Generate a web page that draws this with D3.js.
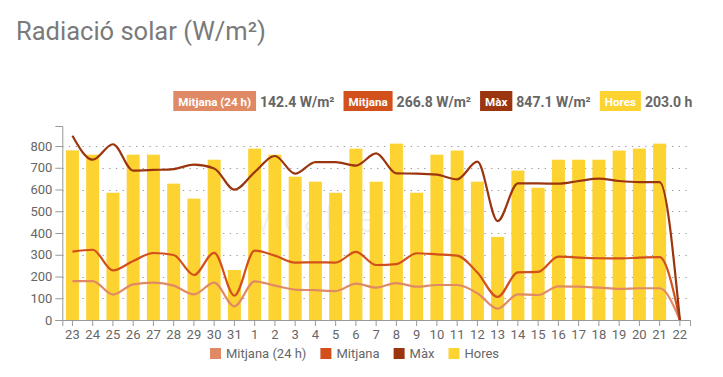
<!DOCTYPE html>
<html>
<head>
  <meta charset="utf-8">
  <title>Radiació solar</title>
  <script src="https://d3js.org/d3.v7.min.js"></script>
  <style>
    body { margin: 0; background: #fff; font-family: Roboto, "Noto Sans", sans-serif; }
  </style>
</head>
<body>
  <div id="chart"></div>

  <script>
    // days shown on the x axis
    var days = ["23","24","25","26","27","28","29","30","31","1","2","3","4","5","6","7","8","9","10","11","12","13","14","15","16","17","18","19","20","21","22"];

    // W/m2
    var avg24 = [179,179,117,164,172,158,118,172,63,178,158,140,137,133,167,149,170,153,161,161,123,52,118,115,155,153,149,143,146,146,0];
    var avg   = [314,323,228,271,308,299,207,309,112,319,296,264,265,264,313,253,257,307,302,296,218,106,219,221,291,287,284,283,287,289,0];
    var maxV  = [847,737,808,687,690,694,714,697,599,680,754,673,726,726,710,766,674,673,668,647,728,455,628,628,627,639,650,639,634,634,0];

    // sunshine hours per day
    var hours = [7.8,7.6,5.85,7.6,7.6,6.27,5.58,7.37,2.3,7.88,7.6,6.59,6.36,5.85,7.88,6.36,8.11,5.85,7.6,7.79,6.36,3.82,6.87,6.08,7.37,7.37,7.37,7.79,7.88,8.11,null];

    var yTicks = [0,100,200,300,400,500,600,700,800];

    var legendItems = [
      {name: "Mitjana (24 h)", value: "142.4 W/m²", color: "#e08a65"},
      {name: "Mitjana", value: "266.8 W/m²", color: "#d2501b"},
      {name: "Màx", value: "847.1 W/m²", color: "#9b3510"},
      {name: "Hores", value: "203.0 h", color: "#fdd331"}
    ];

    var W = 723, H = 377;
    var plotL = 62.3, plotR = 690, plotT = 126, plotB = 320;

    var svg = d3.select("#chart").append("svg")
      .attr("width", W).attr("height", H);

    svg.append("text")
      .attr("x", 16).attr("y", 40)
      .attr("font-size", 25.5).attr("font-weight", 400)
      .attr("fill", "#7a7a7a")
      .text("Radiació solar (W/m²)");

    var x = d3.scaleBand().domain(days).range([plotL, plotR]);
    var y = d3.scaleLinear().domain([0, 892]).range([plotB, plotT]);
    var yH = d3.scaleLinear().domain([0, 8.92]).range([plotB, plotT]);

    // faint watermark
    svg.append("text")
      .attr("x", 255).attr("y", 232)
      .attr("font-size", 38).attr("font-weight", 300)
      .attr("fill", "#eef0f3")
      .text("weathercloud");

    // grid
    svg.append("g").selectAll("line")
      .data(yTicks.filter(function(d) { return d > 0; }))
      .enter().append("line")
      .attr("x1", plotL).attr("x2", plotR)
      .attr("y1", function(d) { return Math.round(y(d)) + 0.5; })
      .attr("y2", function(d) { return Math.round(y(d)) + 0.5; })
      .attr("stroke", "#999")
      .attr("stroke-dasharray", "1.3,5.4");

    // bars
    var bw = 13;
    svg.append("g").selectAll("rect")
      .data(hours.map(function(h, i) { return {day: days[i], h: h}; }).filter(function(d) { return d.h != null; }))
      .enter().append("rect")
      .attr("x", function(d) { return x(d.day) + x.bandwidth() / 2 - bw / 2; })
      .attr("y", function(d) { return yH(d.h); })
      .attr("width", bw)
      .attr("height", function(d) { return plotB - yH(d.h); })
      .attr("fill", "#fdd331");

    // lines
    var line = d3.line()
      .x(function(d, i) { return x(days[i]) + x.bandwidth() / 2; })
      .y(function(d) { return y(d); })
      .curve(d3.curveMonotoneX);

    [[avg24, "#e08a65"], [avg, "#d2501b"], [maxV, "#9b3510"]].forEach(function(s) {
      svg.append("path")
        .datum(s[0])
        .attr("d", line)
        .attr("fill", "none")
        .attr("stroke", s[1])
        .attr("stroke-width", 2.2);
    });

    // axes
    var gy = svg.append("g")
      .attr("transform", "translate(" + plotL + ",0)")
      .call(d3.axisLeft(y).tickValues(yTicks).tickSize(7).tickSizeOuter(7).tickPadding(3));
    var gx = svg.append("g")
      .attr("transform", "translate(0," + plotB + ")")
      .call(d3.axisBottom(x).tickSize(6).tickSizeOuter(6).tickPadding(4));
    [gy, gx].forEach(function(g) {
      g.selectAll("path, line").attr("stroke", "#999");
      g.selectAll("text").attr("fill", "#666").attr("font-size", 13)
        .attr("font-family", "Roboto, sans-serif");
    });

    // top legend
    var lx = 173.3;
    var legTop = svg.append("g");
    legendItems.forEach(function(d) {
      var g = legTop.append("g");
      var rect = g.append("rect").attr("y", 91).attr("height", 20).attr("fill", d.color);
      var t = g.append("text").attr("x", lx + 5).attr("y", 105.5)
        .attr("font-size", 11.6).attr("font-weight", 700).attr("fill", "#fff").text(d.name);
      var tw = t.node().getComputedTextLength();
      rect.attr("x", lx).attr("width", tw + 10);
      lx += tw + 14;
      var v = g.append("text").attr("x", lx).attr("y", 106.5)
        .attr("font-size", 14).attr("font-weight", 700).attr("fill", "#666").text(d.value);
      lx += v.node().getComputedTextLength() + 9;
    });

    // bottom legend
    var bx = 210;
    var legBot = svg.append("g");
    legendItems.forEach(function(d) {
      legBot.append("rect").attr("x", bx).attr("y", 348).attr("width", 11).attr("height", 11).attr("fill", d.color);
      var t = legBot.append("text").attr("x", bx + 16).attr("y", 358)
        .attr("font-size", 13).attr("fill", "#666").text(d.name);
      bx += 16 + t.node().getComputedTextLength() + 14;
    });
  </script>
</body>
</html>
